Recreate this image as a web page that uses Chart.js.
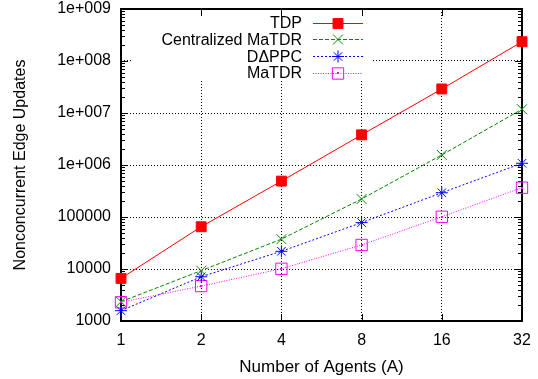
<!DOCTYPE html>
<html>
<head>
<meta charset="utf-8">
<script src="https://cdn.jsdelivr.net/npm/chart.js@4.4.0/dist/chart.umd.min.js"></script>
<style>
html, body { margin: 0; padding: 0; background: #fff; }
</style>
</head>
<body>
<canvas id="chart" width="538" height="379"></canvas>
<script>
var agents = ['1', '2', '4', '8', '16', '32'];
var tdp = [6600, 65000, 490000, 3800000, 29000000, 235000000];
var centralizedMatdr = [2350, 9300, 37500, 222000, 1560000, 11800000];
var dappc = [1580, 7100, 21900, 78000, 293000, 1080000];
var matdr = [2290, 4700, 10100, 29000, 101000, 366000];
var seriesNames = ['TDP', 'Centralized MaTDR', 'D\u0394PPC', 'MaTDR'];
var yTickValues = [1e3, 1e4, 1e5, 1e6, 1e7, 1e8, 1e9];
var yTickLabels = ['1000', '10000', '100000', '1e+006', '1e+007', '1e+008', '1e+009'];

var FONT = '"Liberation Sans", Arial, sans-serif';

// gnuplot style frame, inward tics and the boxed key
var framePlugin = {
    id: 'frame',
    beforeDatasetsDraw: function (chart) {
        var ctx = chart.ctx, a = chart.chartArea;
        var xs = chart.scales.x, ys = chart.scales.y;
        ctx.save();
        // key box hides the grid behind it
        ctx.fillStyle = '#fff';
        ctx.fillRect(a.left + 10, a.top + 1, 241, 70);

        ctx.strokeStyle = '#000';
        ctx.lineWidth = 1;
        ctx.beginPath();
        yTickValues.forEach(function (v) {
            var py = Math.round(ys.getPixelForValue(v)) + 0.5;
            ctx.moveTo(a.left, py); ctx.lineTo(a.left + 7, py);
            ctx.moveTo(a.right, py); ctx.lineTo(a.right - 7, py);
            if (v < 1e9) {
                for (var m = 2; m < 10; m++) {
                    var pm = Math.round(ys.getPixelForValue(v * m)) + 0.5;
                    ctx.moveTo(a.left, pm); ctx.lineTo(a.left + 4, pm);
                    ctx.moveTo(a.right, pm); ctx.lineTo(a.right - 4, pm);
                }
            }
        });
        agents.forEach(function (c, i) {
            var px = Math.round(xs.getPixelForValue(i)) + 0.5;
            ctx.moveTo(px, a.bottom); ctx.lineTo(px, a.bottom - 7);
            ctx.moveTo(px, a.top); ctx.lineTo(px, a.top + 7);
        });
        ctx.stroke();
        ctx.lineWidth = 2;
        ctx.strokeRect(a.left, a.top, a.right - a.left, a.bottom - a.top);

        // key entries
        ctx.font = '16px ' + FONT;
        ctx.textAlign = 'right';
        ctx.textBaseline = 'middle';
        chart.data.datasets.forEach(function (ds, i) {
            var ty = a.top + 13.7 + i * 16.7;
            ctx.fillStyle = '#000';
            ctx.fillText(ds.label, a.left + 181, ty + 1);
            ctx.strokeStyle = ds.borderColor;
            ctx.lineWidth = 1;
            ctx.setLineDash(ds.borderDash || []);
            ctx.beginPath();
            ctx.moveTo(a.left + 192, Math.round(ty) + 0.5);
            ctx.lineTo(a.left + 242, Math.round(ty) + 0.5);
            ctx.stroke();
            ctx.setLineDash([]);
            ctx.fillStyle = ds.pointBackgroundColor;
            Chart.helpers.drawPoint(ctx, {
                pointStyle: ds.pointStyle, radius: ds.pointRadius, rotation: 0, borderWidth: 1
            }, a.left + 217, Math.round(ty) + 0.5);
        });
        ctx.restore();
    },
    afterDatasetsDraw: function (chart) {
        // small dot in the centre of the open squares
        var ctx = chart.ctx;
        var meta = chart.getDatasetMeta(3);
        ctx.save();
        ctx.fillStyle = '#ff00ff';
        meta.data.forEach(function (p) {
            ctx.fillRect(Math.round(p.x) - 1, Math.round(p.y) - 1, 2, 2);
        });
        var a = chart.chartArea;
        ctx.fillRect(a.left + 216, Math.round(a.top + 13.7 + 3 * 16.7) - 1, 2, 2);
        ctx.restore();
    }
};

new Chart(document.getElementById('chart'), {
    type: 'line',
    data: {
        labels: agents,
        datasets: [{
            label: seriesNames[0],
            data: tdp,
            borderColor: '#ff0000',
            borderWidth: 1,
            pointStyle: 'rect',
            pointRadius: 7,
            pointBackgroundColor: '#ff0000',
            pointBorderColor: '#ff0000',
            pointBorderWidth: 1
        }, {
            label: seriesNames[1],
            data: centralizedMatdr,
            borderColor: '#008a00',
            borderWidth: 1,
            borderDash: [4, 2],
            pointStyle: 'crossRot',
            pointRadius: 7,
            pointBackgroundColor: '#008a00',
            pointBorderColor: '#008a00',
            pointBorderWidth: 1
        }, {
            label: seriesNames[2],
            data: dappc,
            borderColor: '#0000ff',
            borderWidth: 1,
            borderDash: [2, 2],
            pointStyle: 'star',
            pointRadius: 6,
            pointBackgroundColor: '#0000ff',
            pointBorderColor: '#0000ff',
            pointBorderWidth: 1
        }, {
            label: seriesNames[3],
            data: matdr,
            borderColor: '#ff00ff',
            borderWidth: 1,
            borderDash: [1, 1.5],
            pointStyle: 'rect',
            pointRadius: 8,
            pointBackgroundColor: 'rgba(0,0,0,0)',
            pointBorderColor: '#ff00ff',
            pointBorderWidth: 1
        }]
    },
    options: {
        responsive: false,
        animation: false,
        devicePixelRatio: 1,
        layout: { padding: { top: 9, right: 16, left: 0, bottom: 0 } },
        plugins: {
            legend: { display: false },
            tooltip: { enabled: false }
        },
        elements: { line: { tension: 0, fill: false } },
        scales: {
            x: {
                type: 'category',
                offset: false,
                afterFit: function (scale) {
                    scale.height = 58;
                    scale.paddingLeft = 0;
                    scale.paddingRight = 0;
                },
                grid: { color: '#000', lineWidth: 1, drawTicks: false },
                border: { display: false, dash: [1, 2] },
                ticks: { color: '#000', padding: 10, font: { family: FONT, size: 16 } },
                title: {
                    display: true, text: 'Number of Agents (A)', color: '#000',
                    font: { family: FONT, size: 17 }, padding: { top: 0, bottom: 1 }
                }
            },
            y: {
                type: 'logarithmic',
                min: 1000,
                max: 1e9,
                afterFit: function (scale) {
                    scale.width = 121;
                    scale.paddingTop = 0;
                    scale.paddingBottom = 0;
                },
                afterBuildTicks: function (scale) {
                    scale.ticks = yTickValues.map(function (v) { return { value: v }; });
                },
                grid: { color: '#000', lineWidth: 1, drawTicks: false },
                border: { display: false, dash: [1, 2] },
                ticks: {
                    color: '#000', padding: 10, font: { family: FONT, size: 16 },
                    callback: function (value, index) { return yTickLabels[index]; }
                },
                title: {
                    display: true, text: 'Nonconcurrent Edge Updates', color: '#000',
                    font: { family: FONT, size: 16 }, padding: { top: 11, bottom: 0 }
                }
            }
        }
    },
    plugins: [framePlugin]
});
</script>
</body>
</html>
